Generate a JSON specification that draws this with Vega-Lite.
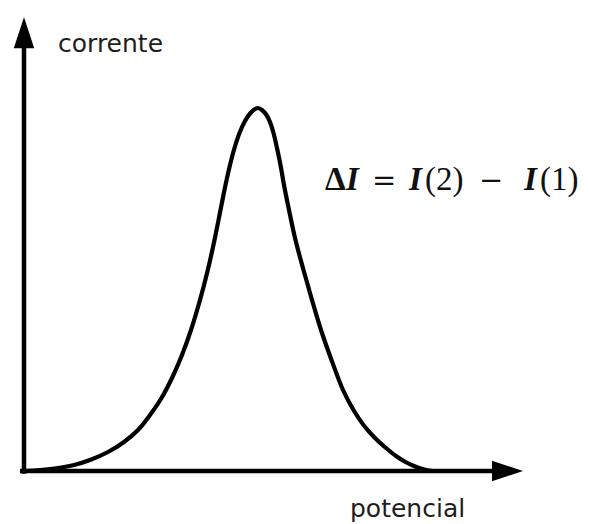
{
  "$schema": "https://vega.github.io/schema/vega-lite/v6.json",
  "width": 589,
  "height": 524,
  "padding": 0,
  "autosize": {"type": "fit", "contains": "padding"},
  "background": "white",
  "config": {"view": {"stroke": null}},
  "datasets": {
    "curve": [
      {"potencial": 0.2, "corrente": 0},
      {"potencial": 3.2, "corrente": 0.222},
      {"potencial": 6.8, "corrente": 0.667},
      {"potencial": 10.0, "corrente": 1.333},
      {"potencial": 13.2, "corrente": 2.444},
      {"potencial": 16.8, "corrente": 4.222},
      {"potencial": 20.0, "corrente": 6.444},
      {"potencial": 22.8, "corrente": 9.111},
      {"potencial": 25.2, "corrente": 12.444},
      {"potencial": 27.5, "corrente": 16.222},
      {"potencial": 29.6, "corrente": 20.667},
      {"potencial": 31.6, "corrente": 25.778},
      {"potencial": 33.4, "corrente": 31.333},
      {"potencial": 35.2, "corrente": 38.0},
      {"potencial": 36.76, "corrente": 44.667},
      {"potencial": 38.1, "corrente": 51.333},
      {"potencial": 39.3, "corrente": 58.0},
      {"potencial": 40.3, "corrente": 63.556},
      {"potencial": 41.2, "corrente": 68.0},
      {"potencial": 42.1, "corrente": 71.778},
      {"potencial": 43.1, "corrente": 75.111},
      {"potencial": 44.2, "corrente": 77.778},
      {"potencial": 45.3, "corrente": 79.556},
      {"potencial": 46.2, "corrente": 80.444},
      {"potencial": 46.8, "corrente": 80.667},
      {"potencial": 47.6, "corrente": 80.222},
      {"potencial": 48.5, "corrente": 79.111},
      {"potencial": 49.2, "corrente": 77.556},
      {"potencial": 49.9, "corrente": 75.111},
      {"potencial": 50.6, "corrente": 71.778},
      {"potencial": 51.3, "corrente": 68.0},
      {"potencial": 52.0, "corrente": 63.556},
      {"potencial": 53.0, "corrente": 58.0},
      {"potencial": 54.3, "corrente": 51.333},
      {"potencial": 55.9, "corrente": 44.667},
      {"potencial": 57.6, "corrente": 38.0},
      {"potencial": 59.4, "corrente": 31.333},
      {"potencial": 61.5, "corrente": 24.667},
      {"potencial": 63.8, "corrente": 18.0},
      {"potencial": 65.9, "corrente": 13.556},
      {"potencial": 67.9, "corrente": 10.222},
      {"potencial": 70.2, "corrente": 7.333},
      {"potencial": 72.4, "corrente": 5.111},
      {"potencial": 74.4, "corrente": 3.333},
      {"potencial": 76.3, "corrente": 2.0},
      {"potencial": 78.0, "corrente": 1.111},
      {"potencial": 79.7, "corrente": 0.444},
      {"potencial": 81.6, "corrente": 0}
    ],
    "axes": [
      {"axis": "potencial", "x0": -0.8, "y0": 0, "x1": 94.2, "y1": 0},
      {"axis": "corrente", "x0": 0, "y0": -0.6, "x1": 0, "y1": 94.5}
    ],
    "arrows": [
      {"dir": "up", "x": 0, "y": 97.4},
      {"dir": "right", "x": 96.7, "y": 0}
    ],
    "labels": [
      {"label": "corrente", "x": 6.8, "y": 93.1},
      {"label": "potencial", "x": 65.2, "y": -10.2}
    ],
    "equation": [
      {"piece": "Δ", "kind": "operator", "x": 60.2, "y": 62.4},
      {"piece": "I", "kind": "variable", "x": 64.4, "y": 62.4},
      {"piece": "=", "kind": "relation", "x": 69.6, "y": 62.4},
      {"piece": "I", "kind": "variable", "x": 77.0, "y": 62.4},
      {"piece": "(2)", "kind": "plain", "x": 80.2, "y": 62.4},
      {"piece": "−", "kind": "relation", "x": 91.0, "y": 62.4},
      {"piece": "I", "kind": "variable", "x": 100.0, "y": 62.4},
      {"piece": "(1)", "kind": "plain", "x": 103.2, "y": 62.4}
    ]
  },
  "layer": [
    {
      "data": {"name": "axes"},
      "mark": {"type": "rule", "color": "#000000", "strokeWidth": 4.5},
      "encoding": {
        "x": {"field": "x0", "type": "quantitative", "scale": {"domain": [-4.8, 113], "nice": false, "zero": false}, "axis": null},
        "y": {"field": "y0", "type": "quantitative", "scale": {"domain": [-11.78, 104.67], "nice": false, "zero": false}, "axis": null},
        "x2": {"field": "x1"},
        "y2": {"field": "y1"}
      }
    },
    {
      "data": {"name": "arrows"},
      "mark": {"type": "point", "filled": true, "opacity": 1, "size": 961, "color": "#000000", "strokeWidth": 0},
      "encoding": {
        "x": {"field": "x", "type": "quantitative"},
        "y": {"field": "y", "type": "quantitative"},
        "shape": {
          "field": "dir",
          "type": "nominal",
          "scale": {"domain": ["up", "right"], "range": ["M0,-1L-0.66,1L0.66,1Z", "M1,0L-1,-0.66L-1,0.66Z"]},
          "legend": null
        }
      }
    },
    {
      "data": {"name": "curve"},
      "mark": {"type": "line", "color": "#000000", "strokeWidth": 4.2, "interpolate": "catmull-rom", "strokeCap": "round"},
      "encoding": {
        "x": {"field": "potencial", "type": "quantitative"},
        "y": {"field": "corrente", "type": "quantitative"}
      }
    },
    {
      "data": {"name": "labels"},
      "mark": {"type": "text", "font": "DejaVu Sans", "fontSize": 25, "align": "left", "baseline": "alphabetic", "color": "#1e1e1e"},
      "encoding": {
        "x": {"field": "x", "type": "quantitative"},
        "y": {"field": "y", "type": "quantitative"},
        "text": {"field": "label"}
      }
    },
    {
      "data": {"name": "equation"},
      "transform": [{"filter": "datum.kind === 'operator'"}],
      "mark": {"type": "text", "font": "Liberation Serif", "fontSize": 33, "fontWeight": "bold", "align": "left", "baseline": "alphabetic", "color": "#111111"},
      "encoding": {
        "x": {"field": "x", "type": "quantitative"},
        "y": {"field": "y", "type": "quantitative"},
        "text": {"field": "piece"}
      }
    },
    {
      "data": {"name": "equation"},
      "transform": [{"filter": "datum.kind === 'variable'"}],
      "mark": {"type": "text", "font": "Liberation Serif", "fontSize": 33, "fontWeight": "bold", "fontStyle": "italic", "align": "left", "baseline": "alphabetic", "color": "#111111"},
      "encoding": {
        "x": {"field": "x", "type": "quantitative"},
        "y": {"field": "y", "type": "quantitative"},
        "text": {"field": "piece"}
      }
    },
    {
      "data": {"name": "equation"},
      "transform": [{"filter": "datum.kind === 'plain'"}],
      "mark": {"type": "text", "font": "Liberation Serif", "fontSize": 33, "align": "left", "baseline": "alphabetic", "color": "#111111"},
      "encoding": {
        "x": {"field": "x", "type": "quantitative"},
        "y": {"field": "y", "type": "quantitative"},
        "text": {"field": "piece"}
      }
    },
    {
      "data": {"name": "equation"},
      "transform": [{"filter": "datum.kind === 'relation'"}],
      "mark": {"type": "text", "font": "DejaVu Serif", "fontSize": 29, "align": "left", "baseline": "alphabetic", "color": "#111111"},
      "encoding": {
        "x": {"field": "x", "type": "quantitative"},
        "y": {"field": "y", "type": "quantitative"},
        "text": {"field": "piece"}
      }
    }
  ]
}
